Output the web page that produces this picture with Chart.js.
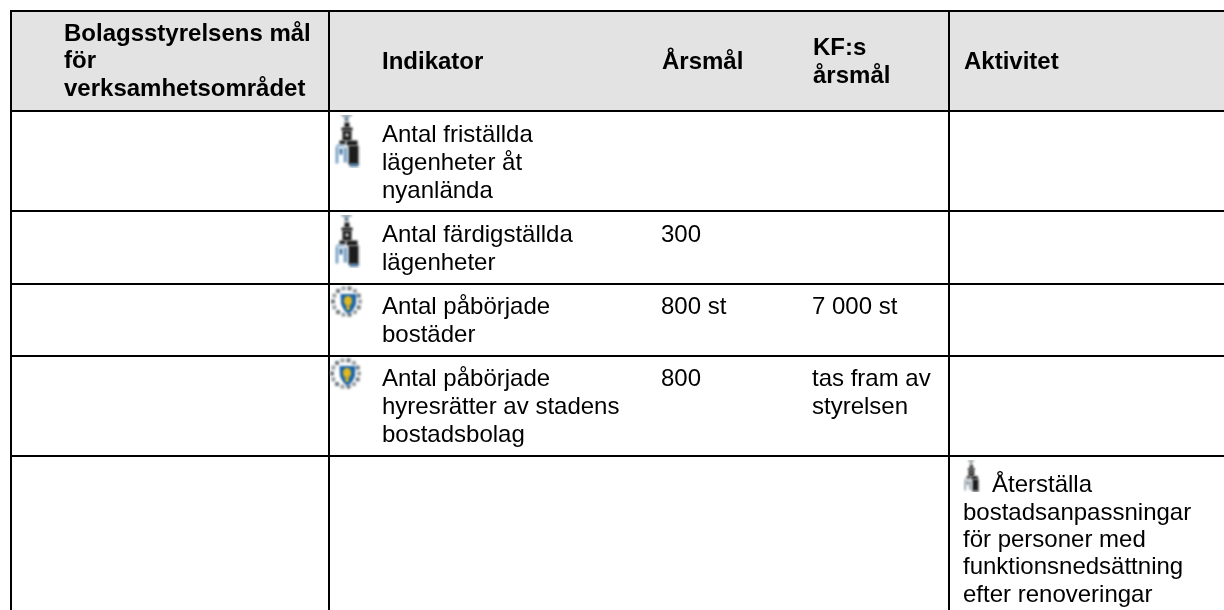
<!DOCTYPE html>
<html lang="sv">
<head>
<meta charset="utf-8">
<title>Bolagsstyrelsens mål</title>
<script src="https://cdn.jsdelivr.net/npm/chart.js@4"></script>
<style>
  html,body{margin:0;padding:0;background:#fff;}
  canvas{display:block;}
</style>
</head>
<body>
<canvas id="tableChart" width="1224" height="610"></canvas>
<script>
// Table content
const headerGoal = ['Bolagsstyrelsens mål','för','verksamhetsområdet'];
const headerIndicator = ['Indikator'];
const headerYear = ['Årsmål'];
const headerKf = ['KF:s','årsmål'];
const headerActivity = ['Aktivitet'];
const indicators = [
  ['Antal friställda','lägenheter åt','nyanlända'],
  ['Antal färdigställda','lägenheter'],
  ['Antal påbörjade','bostäder'],
  ['Antal påbörjade','hyresrätter av stadens','bostadsbolag']
];
const yearGoals = ['','300','800 st','800'];
const kfGoals = [[],[],['7 000 st'],['tas fram av','styrelsen']];
const activity = ['Återställa','bostadsanpassningar','för personer med','funktionsnedsättning','efter renoveringar'];

// Table rules and icons, in picture pixels
const columnEdges = [11,329,949];
const rowEdges = [11,111,211,284,356,456];
const bigTowers = [{x:347,y:141},{x:347,y:241}];
const shields = [{x:347,y:302},{x:346,y:374}];
const smallTowers = [{x:973,y:476}];

function makeIcon(w,h,filter,paint){
  const c = document.createElement('canvas');
  c.width = w; c.height = h;
  const g = c.getContext('2d');
  g.filter = filter;
  paint(g);
  return c;
}

function paintTower(g,s){
  g.save();
  g.scale(s,s);
  g.fillStyle = '#6f8798';
  g.fillRect(8,0,10,2);
  g.fillRect(11,2,4,5);
  g.fillStyle = '#1c1c1c';
  g.fillRect(11,8,5,5);
  g.fillRect(8,13,11,3);
  g.fillRect(9,16,9,10);
  g.fillStyle = '#ddd';
  g.fillRect(12,19,3,3);
  g.fillStyle = '#1c1c1c';
  g.fillRect(6,26,6,4);
  g.fillRect(13,26,11,5);
  g.fillRect(15,31,10,19);
  g.fillStyle = '#7ea6c8';
  g.fillRect(2,32,3,17);
  g.fillRect(10,33,4,15);
  g.fillRect(3,30,8,2);
  g.fillStyle = '#3f6f98';
  g.fillRect(6,34,3,6);
  g.fillRect(16,49,9,3);
  g.restore();
}

function paintShield(g){
  // ring of small grey dots
  for(let i=0;i<14;i++){
    const a = i/14*Math.PI*2;
    g.fillStyle = i%2 ? '#6f767b' : '#9aa0a4';
    g.fillRect(16.5+Math.cos(a)*13.5-2,16.5+Math.sin(a)*13.5-2,4,4);
  }
  g.fillStyle = '#1d66a8';
  g.beginPath();
  g.moveTo(10.5,9); g.lineTo(26.5,9); g.lineTo(26,19);
  g.quadraticCurveTo(23.5,26,18.5,29);
  g.quadraticCurveTo(13.5,26,11,19);
  g.closePath();
  g.fill();
  g.fillStyle = '#e2b81e';
  g.beginPath();
  g.ellipse(18,16,4,5,0,0,Math.PI*2);
  g.fill();
  g.fillRect(16.5,20,3,5);
}

const towerIcon = makeIcon(27,53,'blur(0.8px)',g=>paintTower(g,1));
const towerSmallIcon = makeIcon(20,32,'blur(0.9px) grayscale(0.7)',g=>{ paintTower(g,0.62); });
const shieldIcon = makeIcon(34,34,'blur(0.9px)',paintShield);

const rules = [];
rowEdges.forEach(y=>rules.push([{x:10,y:y},{x:1224,y:y}]));
columnEdges.forEach(x=>rules.push([{x:x,y:10},{x:x,y:610}]));

const textFont = '24px "Liberation Sans", Arial, sans-serif';
const boldFont = 'bold 24px "Liberation Sans", Arial, sans-serif';

// Writes every table cell at its place on the scales
const cellText = {
  id:'cellText',
  afterDatasetsDraw(chart){
    const {ctx,scales:{x,y}} = chart;
    const put = (lines,px,py,step,font)=>{
      ctx.font = font;
      lines.forEach((t,i)=>ctx.fillText(t,x.getPixelForValue(px),y.getPixelForValue(py+i*step)));
    };
    ctx.save();
    ctx.fillStyle = '#000';
    ctx.textBaseline = 'alphabetic';
    ctx.filter = 'blur(0.35px)'; // the reference text is slightly soft
    put(headerGoal,64,40.5,27.8,boldFont);
    put(headerIndicator,382,69,0,boldFont);
    put(headerYear,662,69,0,boldFont);
    put(headerKf,813,55,28,boldFont);
    put(headerActivity,964,69,0,boldFont);
    const rowTop = [142,242,314,386];
    indicators.forEach((lines,i)=>{
      put(lines,382,rowTop[i],27.8,textFont);
      put([yearGoals[i]],661,rowTop[i],0,textFont);
      put(kfGoals[i],812,rowTop[i],27.8,textFont);
    });
    put([activity[0]],992,492,0,textFont);
    put(activity.slice(1),963,519.5,27.4,textFont);
    ctx.restore();
  }
};

new Chart(document.getElementById('tableChart'),{
  type:'scatter',
  data:{
    datasets:[
      {type:'scatter',data:bigTowers,pointStyle:towerIcon,order:1},
      {type:'scatter',data:shields,pointStyle:shieldIcon,order:1},
      {type:'scatter',data:smallTowers,pointStyle:towerSmallIcon,order:1},
      ...rules.map(r=>({type:'line',data:r,borderColor:'#000',borderWidth:2,pointRadius:0,order:2})),
      {type:'line',data:[{x:11,y:rowEdges[0]},{x:1224,y:rowEdges[0]}],borderWidth:0,pointRadius:0,
       backgroundColor:'#e3e3e3',fill:{value:rowEdges[1]},order:3}
    ]
  },
  options:{
    responsive:false,
    animation:false,
    layout:{padding:0,autoPadding:false},
    plugins:{legend:{display:false},tooltip:{enabled:false}},
    scales:{
      x:{type:'linear',display:false,min:0,max:1224},
      y:{type:'linear',display:false,min:0,max:610,reverse:true}
    }
  },
  plugins:[cellText]
});
</script>
</body>
</html>
